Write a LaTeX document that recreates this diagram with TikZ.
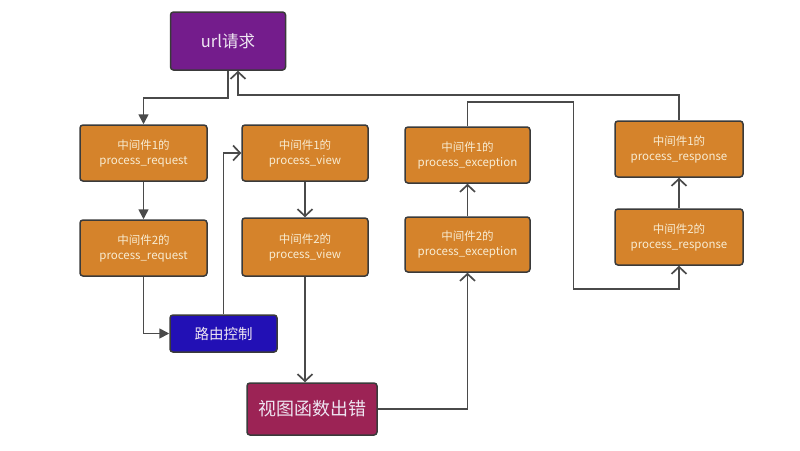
\documentclass[tikz,border=0pt]{standalone}
\usepackage{fontspec}
\setmainfont{Noto Sans CJK SC}
\usetikzlibrary{arrows.meta}
\definecolor{urlc}{HTML}{741C8C}
\definecolor{orangec}{HTML}{D5832B}
\definecolor{bluec}{HTML}{2210B5}
\definecolor{crimc}{HTML}{9C2355}
\definecolor{boxline}{HTML}{3A3A3A}
\definecolor{linec}{HTML}{4A4A4A}
\definecolor{txto}{HTML}{F8ECD2}
\definecolor{txtl}{HTML}{EEE6F2}
\begin{document}
\begin{tikzpicture}[x=1pt,y=-1pt,
 box/.style={draw=boxline, line width=1.5pt, rounded corners=3pt, align=center, inner sep=0pt},
 mw/.style={box, fill=orangec, text=txto, minimum width=127pt, minimum height=56pt, font=\fontsize{11.5}{15}\selectfont},
 conn/.style={draw=linec, line width=1.7pt},
 openarr/.style={conn, -{Straight Barb[length=7pt,width=15pt]}},
 fillarr/.style={conn, -{Triangle[length=10pt,width=10pt]}}]
\useasboundingbox (0,0) rectangle (800,450);

\node[box, fill=urlc, text=txtl, minimum width=115pt, minimum height=58pt, font=\fontsize{16.5}{18}\selectfont] (url) at (228,41) {url请求};
\node[mw] (pr1) at (143.5,153) {中间件1的\\process\_request};
\node[mw] (pr2) at (143.5,248) {中间件2的\\process\_request};
\node[box, fill=bluec, text=txtl, minimum width=107pt, minimum height=37pt, font=\fontsize{14.5}{16}\selectfont] (route) at (223.5,333.5) {路由控制};
\node[mw, minimum width=126pt] (pv1) at (305,153) {中间件1的\\process\_view};
\node[mw, minimum width=126pt, minimum height=58pt] (pv2) at (305,247) {中间件2的\\process\_view};
\node[box, fill=crimc, text=txtl, minimum width=130pt, minimum height=52pt, font=\fontsize{18}{20}\selectfont] (err) at (312,409) {视图函数出错};
\node[mw, minimum width=125pt] (pe1) at (467.5,155) {中间件1的\\process\_exception};
\node[mw, minimum width=125pt, minimum height=55pt] (pe2) at (467.5,244.5) {中间件2的\\process\_exception};
\node[mw, minimum width=128pt] (rs1) at (679,149) {中间件1的\\process\_response};
\node[mw, minimum width=128pt] (rs2) at (679,237) {中间件2的\\process\_response};

\draw[fillarr] (url.south) -- ++(0,27) -| (pr1.north);
\draw[openarr] (rs1.north) -- ++(0,-25) -| ([xshift=10pt]url.south);
\draw[fillarr] (pr1) -- (pr2);
\draw[fillarr] (pr2.south) |- (route.west);
\draw[openarr] (route.north) |- (pv1.west);
\draw[openarr] (pv1) -- (pv2);
\draw[openarr] (pv2.south) -- (pv2.south |- err.north);
\draw[openarr] (err.east) -| (pe2.south);
\draw[openarr] (pe2) -- (pe1);
\draw[openarr] (pe1.north) -- ++(0,-24) -- ++(106,0) -- ++(0,187) -| (rs2.south);
\draw[openarr] (rs2) -- (rs1);
\end{tikzpicture}
\end{document}
